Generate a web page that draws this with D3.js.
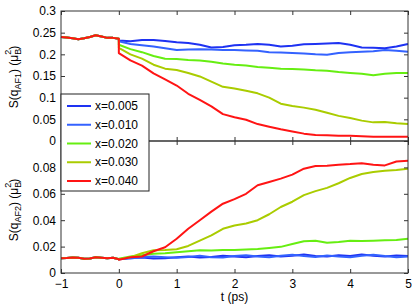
<!DOCTYPE html>
<html>
<head>
<meta charset="utf-8">
<title>S(q) vs t</title>
<script src="https://cdn.jsdelivr.net/npm/d3@7"></script>
<style>
  body { margin: 0; background: #fff; }
  svg text { font-family: "Liberation Sans", Arial, Helvetica, sans-serif; fill: #000; }
  .tick line { stroke: #333; }
  .tick text { font-size: 12px; }
  .frame { fill: none; stroke: #333; stroke-width: 1; }
  .curve { fill: none; stroke-width: 2; stroke-linejoin: round; }
</style>
</head>
<body>
<div id="chart"></div>
<script>
// ---- data ----
var seriesNames = ["x=0.005", "x=0.010", "x=0.020", "x=0.030", "x=0.040"];
var seriesColors = ["#1e32f2", "#3462ff", "#66ee11", "#aacc00", "#ff1414"];

// shared part before the pulse (all curves overlap)
var tPre = [-1, -0.9, -0.8, -0.7, -0.6, -0.5, -0.4, -0.3, -0.2, -0.1, 0];
var af1Pre = [0.240, 0.239, 0.237, 0.235, 0.237, 0.240, 0.244, 0.241, 0.238, 0.238, 0.236];
var af2Pre = [0.0112, 0.0113, 0.0118, 0.0115, 0.0108, 0.0110, 0.0120, 0.0116, 0.0112, 0.0115, 0.0104];

// after the pulse
var tPost = [0, 0.2, 0.4, 0.6, 0.8, 1.0, 1.2, 1.4, 1.6, 1.8, 2.0, 2.2, 2.4, 2.6, 2.8,
             3.0, 3.2, 3.4, 3.6, 3.8, 4.0, 4.2, 4.4, 4.6, 4.8, 5.0];

var af1_005 = [0.232, 0.230, 0.233, 0.233, 0.231, 0.228, 0.226, 0.222, 0.216, 0.217, 0.221, 0.222, 0.224,
               0.222, 0.218, 0.220, 0.223, 0.224, 0.225, 0.226, 0.222, 0.216, 0.215, 0.214, 0.218, 0.224];
var af1_010 = [0.230, 0.224, 0.221, 0.218, 0.214, 0.210, 0.211, 0.212, 0.211, 0.210, 0.210, 0.209, 0.208,
               0.205, 0.204, 0.203, 0.202, 0.200, 0.199, 0.203, 0.205, 0.206, 0.207, 0.210, 0.208, 0.206];
var af1_020 = [0.222, 0.212, 0.205, 0.196, 0.190, 0.189, 0.187, 0.186, 0.183, 0.179, 0.176, 0.174, 0.171,
               0.169, 0.167, 0.166, 0.165, 0.163, 0.162, 0.159, 0.157, 0.155, 0.152, 0.155, 0.157, 0.157];
var af1_030 = [0.215, 0.200, 0.190, 0.176, 0.167, 0.164, 0.157, 0.149, 0.137, 0.125, 0.121, 0.116, 0.110,
               0.100, 0.086, 0.081, 0.077, 0.072, 0.065, 0.058, 0.053, 0.047, 0.043, 0.044, 0.041, 0.039];
var af1_040 = [0.203, 0.186, 0.174, 0.156, 0.142, 0.128, 0.109, 0.095, 0.080, 0.062, 0.055, 0.049, 0.039,
               0.033, 0.027, 0.022, 0.017, 0.014, 0.013, 0.012, 0.012, 0.011, 0.010, 0.010, 0.010, 0.010];

var af2_005 = [0.0105, 0.0115, 0.0118, 0.0110, 0.0112, 0.0120, 0.0125, 0.0118, 0.0122, 0.0130, 0.0125, 0.0120, 0.0128,
               0.0135, 0.0125, 0.0130, 0.0140, 0.0128, 0.0125, 0.0135, 0.0128, 0.0140, 0.0130, 0.0125, 0.0133, 0.0128];
var af2_010 = [0.0105, 0.0110, 0.0122, 0.0125, 0.0120, 0.0115, 0.0122, 0.0130, 0.0120, 0.0118, 0.0128, 0.0135, 0.0125,
               0.0120, 0.0130, 0.0138, 0.0128, 0.0122, 0.0132, 0.0125, 0.0120, 0.0130, 0.0138, 0.0128, 0.0120, 0.0125];
var af2_020 = [0.0108, 0.0125, 0.0135, 0.0145, 0.0150, 0.0158, 0.0165, 0.0172, 0.0170, 0.0175, 0.0174, 0.0178, 0.0182,
               0.0190, 0.0198, 0.0220, 0.0240, 0.0245, 0.0230, 0.0235, 0.0245, 0.0243, 0.0245, 0.0248, 0.0250, 0.0260];
var af2_030 = [0.0105, 0.0120, 0.0150, 0.0172, 0.0175, 0.0180, 0.0205, 0.0245, 0.0285, 0.0335, 0.0360, 0.0375, 0.0400,
               0.0445, 0.0500, 0.0540, 0.0590, 0.0620, 0.0645, 0.0680, 0.0720, 0.0750, 0.0765, 0.0775, 0.0780, 0.0790];
var af2_040 = [0.0100, 0.0120, 0.0125, 0.0165, 0.0195, 0.0260, 0.0335, 0.0400, 0.0465, 0.0525, 0.0560, 0.0600, 0.0665,
               0.0690, 0.0715, 0.0745, 0.0790, 0.0810, 0.0812, 0.0820, 0.0825, 0.0832, 0.0820, 0.0815, 0.0845, 0.0850];

var af1Post = [af1_005, af1_010, af1_020, af1_030, af1_040];
var af2Post = [af2_005, af2_010, af2_020, af2_030, af2_040];

var xTicks = [-1, 0, 1, 2, 3, 4, 5];
var af1Ticks = [0, 0.05, 0.1, 0.15, 0.2, 0.25, 0.3];
var af2Ticks = [0, 0.02, 0.04, 0.06, 0.08];
var af2RightTicks = [0, 0.02, 0.04, 0.06, 0.08, 0.1];

// ---- layout ----
var width = 415, height = 307;
var left = 61, right = 408, top1 = 11, mid = 141, bot2 = 273;

var svg = d3.select("#chart").append("svg")
    .attr("width", width)
    .attr("height", height);

var x = d3.scaleLinear().domain([-1, 5]).range([left, right]);
var y1 = d3.scaleLinear().domain([0, 0.3]).range([mid, top1]);
var y2 = d3.scaleLinear().domain([0, 0.1]).range([bot2, mid]);

function makeRows(post) {
  return tPost.map(function(t, i) { return [t, post[i]]; });
}
function preRows(pre) {
  return tPre.map(function(t, i) { return [t, pre[i]]; });
}

function panel(yScale, pre, posts, yTicks, rightTicks, showX) {
  var g = svg.append("g");
  var line = d3.line().x(function(d) { return x(d[0]); }).y(function(d) { return yScale(d[1]); });

  posts.forEach(function(post, k) {
    g.append("path")
      .attr("class", "curve")
      .attr("stroke", seriesColors[k])
      .attr("d", line(preRows(pre).concat(makeRows(post))));
  });

  var yr = yScale.range();
  g.append("g").attr("transform", "translate(" + left + ",0)")
    .call(d3.axisLeft(yScale).tickValues(yTicks).tickFormat(d3.format("~g"))
      .tickSizeInner(-4).tickSizeOuter(0).tickPadding(5))
    .call(function(a) { a.select(".domain").remove(); });
  g.append("g").attr("transform", "translate(" + right + ",0)")
    .call(d3.axisRight(yScale).tickValues(rightTicks).tickFormat("")
      .tickSizeInner(-4).tickSizeOuter(0))
    .call(function(a) { a.select(".domain").remove(); });
  g.append("g").attr("transform", "translate(0," + yr[1] + ")")
    .call(d3.axisTop(x).tickValues(xTicks).tickFormat("")
      .tickSizeInner(-4).tickSizeOuter(0))
    .call(function(a) { a.select(".domain").remove(); });
  g.append("g").attr("transform", "translate(0," + yr[0] + ")")
    .call(d3.axisBottom(x).tickValues(xTicks).tickFormat(showX ? d3.format("d") : "")
      .tickSizeInner(-4).tickSizeOuter(0).tickPadding(6))
    .call(function(a) { a.select(".domain").remove(); });

  g.append("rect").attr("class", "frame")
    .attr("x", left).attr("y", yr[1])
    .attr("width", right - left).attr("height", yr[0] - yr[1]);
  return g;
}

panel(y1, af1Pre, af1Post, af1Ticks, af1Ticks, false);
panel(y2, af2Pre, af2Post, af2Ticks, af2RightTicks, true);

// minus sign like the original
svg.selectAll(".tick text").text(function() { return this.textContent.replace("-", "\u2212"); });

// ---- axis titles ----
function yTitle(cy, sub) {
  var t = svg.append("text")
    .attr("transform", "translate(18," + cy + ") rotate(-90)")
    .attr("text-anchor", "middle")
    .style("font-size", "12px");
  t.append("tspan").text("S(q");
  t.append("tspan").attr("dy", 3).style("font-size", "9px").text(sub);
  t.append("tspan").attr("dy", -3).text(") (\u03bc");
  t.append("tspan").attr("dy", 3).style("font-size", "9px").text("B");
  t.append("tspan").attr("dy", -10).attr("dx", -6).style("font-size", "9px").text("2");
  t.append("tspan").attr("dy", 7).text(")");
}
yTitle(77, "AF1");
yTitle(210, "AF2");

svg.append("text")
  .attr("x", x(2)).attr("y", 301)
  .attr("text-anchor", "middle")
  .style("font-size", "12px")
  .text("t (ps)");

// ---- legend ----
var legend = svg.append("g");
legend.append("rect")
  .attr("x", left).attr("y", 94)
  .attr("width", 88).attr("height", 97)
  .attr("fill", "#fff").attr("stroke", "#222");
var rowY = d3.scalePoint().domain(seriesNames).range([106, 181]);
seriesNames.forEach(function(name, k) {
  legend.append("line")
    .attr("x1", 67).attr("x2", 91)
    .attr("y1", rowY(name)).attr("y2", rowY(name))
    .attr("stroke", seriesColors[k]).attr("stroke-width", 2);
  legend.append("text")
    .attr("x", 95).attr("y", rowY(name)).attr("dy", "0.35em")
    .style("font-size", "12px")
    .text(name);
});
</script>
</body>
</html>
